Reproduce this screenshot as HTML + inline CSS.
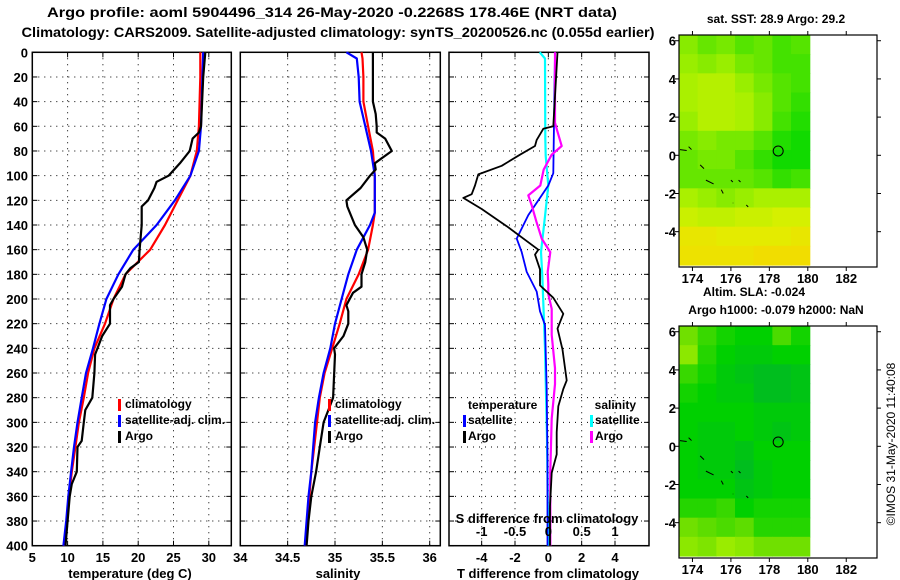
<!DOCTYPE html>
<html><head><meta charset="utf-8"><style>
html,body{margin:0;padding:0;background:#fff;}
svg{display:block;font-family:"Liberation Sans",sans-serif;font-weight:bold;}
</style></head><body>
<svg id="fig" width="900" height="580" viewBox="0 0 900 580" xmlns="http://www.w3.org/2000/svg">
<text x="332" y="17" font-size="14" text-anchor="middle" textLength="570" lengthAdjust="spacingAndGlyphs">Argo profile: aoml 5904496_314 26-May-2020 -0.2268S 178.46E (NRT data)</text>
<text x="338" y="37" font-size="14" text-anchor="middle" textLength="633" lengthAdjust="spacingAndGlyphs">Climatology: CARS2009. Satellite-adjusted climatology: synTS_20200526.nc (0.055d earlier)</text>
<text font-size="12" font-weight="normal" transform="translate(895,444) rotate(-90)" text-anchor="middle">©IMOS 31-May-2020 11:40:08</text>
</svg>
<script>
// ---- data ----
const tDepth=[0,20,60,80,100,120,140,160,180,200,220,240,260,280,300,320,340,360,380,400];
const tClim=[28.8,28.8,28.6,28.3,27.4,25.6,23.8,21.7,18.2,16.5,15.3,13.8,12.9,12.3,11.6,11.1,10.6,10.2,9.9,9.5];
const tSat=[29.2,29.1,28.9,28.6,27.4,25.2,22.6,19.3,17.2,15.5,14.5,13.6,12.6,12.0,11.4,10.9,10.5,10.1,9.8,9.4];
const argoDepth=[0,20,60,65,70,80,90,100,105,110,120,125,140,160,170,175,180,190,200,205,220,230,245,260,280,290,300,315,320,340,350,360,380,400];
const tArgo=[29.5,29.2,28.9,28.6,27.7,27.3,25.9,24.3,22.6,22.3,21.4,20.5,20.5,20.2,20.1,18.9,18.2,17.7,16.5,16.0,16.0,14.9,13.9,13.8,13.5,12.5,12.3,12.0,11.4,11.3,10.6,10.3,10.0,9.7];
const sDepth=[0,5,20,40,60,80,100,120,130,140,160,180,200,220,240,260,280,300,320,340,360,380,400];
const sClim=[35.28,35.29,35.30,35.30,35.35,35.40,35.42,35.42,35.42,35.40,35.35,35.25,35.12,35.05,34.97,34.89,34.84,34.81,34.78,34.75,34.73,34.71,34.69];
const sSat=[35.12,35.23,35.25,35.26,35.32,35.38,35.42,35.42,35.42,35.37,35.23,35.14,35.07,35.00,34.95,34.88,34.83,34.79,34.77,34.75,34.72,34.70,34.68];
const sArgoDepth=[0,40,50,60,65,70,80,85,90,95,100,110,120,125,140,150,160,170,180,190,195,205,210,220,230,240,245,280,290,300,320,340,360,380,400];
const sArgo=[35.40,35.40,35.43,35.44,35.44,35.53,35.60,35.51,35.42,35.43,35.37,35.27,35.12,35.13,35.21,35.30,35.34,35.32,35.28,35.28,35.19,35.12,35.14,35.14,35.09,34.99,35.0,34.98,34.93,34.88,34.84,34.80,34.75,34.72,34.70];
const dtArgoDepth=[0,60,62,71,76,83,92,99,108,115,118,127,141,160,164,176,189,199,212,224,241,266,273,287,308,326,341,368,384,400];
const dtArgo=[0.55,0.3,-0.3,-0.7,-0.8,-1.7,-2.8,-4.2,-4.4,-4.6,-5.1,-4.0,-2.5,-0.6,-0.8,-0.5,-0.5,0.3,0.9,0.55,0.85,1.1,0.9,0.6,0.5,0.5,0.2,0.1,0.1,0.1];
const dtSatDepth=[0,98,108,118,132,151,162,178,194,210,221,273,330,400];
const dtSat=[0.4,0.3,0,-0.5,-1.2,-1.9,-1.6,-1.3,-0.7,-0.5,-0.2,-0.1,-0.05,-0.05];
const dsSatDepth=[0,5,70,84,108,133,162,181,240,313,400];
const dsSat=[-0.13,-0.05,-0.045,-0.04,0,-0.05,-0.11,-0.09,-0.05,-0.02,0];
const dsArgoDepth=[0,57,63,76,83,95,108,116,124,137,151,162,178,188,196,208,229,256,269,297,340,400];
const dsArgo=[0.1,0.1,0.13,0.2,0.05,-0.07,-0.12,-0.3,-0.25,-0.18,-0.1,0.03,-0.01,0,0,0.05,0.05,0.1,0.1,0.05,0.03,0.03];
const depthTicks=[0,20,40,60,80,100,120,140,160,180,200,220,240,260,280,300,320,340,360,380,400];
const tTicks=[5,10,15,20,25,30];
const sTicks=[34,34.5,35,35.5,36];
const dTTicks=[-4,-2,0,2,4];
const dSTicks=[-1,-0.5,0,0.5,1];
const sstGrid=[
[0.4,0.3,0.35,0.25,0.3,0.2,0.25],[0.45,0.4,0.45,0.35,0.3,0.2,0.2],[0.5,0.55,0.55,0.45,0.35,0.25,0.2],
[0.5,0.55,0.55,0.5,0.4,0.25,0.15],[0.45,0.55,0.55,0.5,0.4,0.2,0.1],[0.35,0.4,0.35,0.35,0.25,0.1,0.05],
[0.3,0.35,0.35,0.25,0.15,0.05,0.05],[0.3,0.3,0.3,0.3,0.25,0.15,0.2],[0.5,0.45,0.4,0.45,0.5,0.5,0.5],
[0.65,0.6,0.6,0.65,0.65,0.7,0.7],[0.85,0.85,0.8,0.8,0.8,0.8,0.85],[0.9,0.9,0.9,0.9,0.95,0.95,0.95]];
const slaGrid=[
[0.5,0.35,0.25,0.2,0.2,0.4,0.25],[0.6,0.3,0.2,0.15,0.15,0.2,0.2],[0.35,0.25,0.15,0.1,0.05,0.05,0.1],
[0.25,0.2,0.15,0.15,0.05,0.05,0.1],[0.2,0.2,0.2,0.2,0.15,0.15,0.15],[0.2,0.15,0.15,0.2,0.15,0.1,0.15],
[0.2,0.15,0.15,0.1,0.2,0.2,0.2],[0.2,0.15,0.15,0.05,0.15,0.2,0.2],[0.2,0.2,0.2,0.1,0.15,0.2,0.2],
[0.3,0.3,0.35,0.2,0.25,0.25,0.25],[0.5,0.45,0.4,0.45,0.3,0.3,0.3],[0.6,0.55,0.65,0.6,0.5,0.5,0.5]];
const lonTicks=[174,176,178,180,182];
const latTicks=[-4,-2,0,2,4,6];
const argoLon=178.46, argoLat=0.2268;

// ---- drawing ----
const NS="http://www.w3.org/2000/svg";
const svg=document.getElementById('fig');
function mk(tag,attrs,parent){const e=document.createElementNS(NS,tag);for(const k in attrs)e.setAttribute(k,attrs[k]);(parent||svg).appendChild(e);return e;}
const Y0=52.3,Y1=545.7;
const yD=d=>Y0+d/400*(Y1-Y0);
function panel(x0,x1,xmin,xmax,ticks,name){
  const g=mk('g',{});
  
  
  const sx=v=>x0+(v-xmin)/(xmax-xmin)*(x1-x0);
  depthTicks.forEach(d=>{if(d>0&&d<400){const l=mk('line',{x1:x0,x2:x1,y1:yD(d),y2:yD(d),stroke:'#000','stroke-width':1,'stroke-dasharray':'1,5'},g);
    
    }
    mk('line',{x1:x0,x2:x0+5,y1:yD(d),y2:yD(d),stroke:'#000'},g);mk('line',{x1:x1,x2:x1-5,y1:yD(d),y2:yD(d),stroke:'#000'},g);});
  ticks.forEach(v=>{const x=sx(v);if(x>x0+1&&x<x1-1){const l=mk('line',{x1:x,x2:x,y1:Y0,y2:Y1,stroke:'#000','stroke-dasharray':'1,5'},g);
    
    }
    mk('line',{x1:x,x2:x,y1:Y1,y2:Y1-5,stroke:'#000'},g);mk('line',{x1:x,x2:x,y1:Y0,y2:Y0+5,stroke:'#000'},g);});
  const r=mk('rect',{x:x0,y:Y0,width:x1-x0,height:Y1-Y0,fill:'none',stroke:'#000','stroke-width':1.5},g);
  
  
  return {g,sx};
}
function line(p,xs,ds,sx,col,name,w){
  const pts=xs.map((v,i)=>sx(v).toFixed(1)+','+yD(ds[i]).toFixed(1)).join(' ');
  const e=mk('polyline',{points:pts,fill:'none',stroke:col,'stroke-width':w||2.2,'stroke-linejoin':'round'},p.g);
  
  
}
function txt(s,x,y,opt,name){const e=mk('text',Object.assign({x:x,y:y,'font-size':13},opt||{}));e.textContent=s;
  
  return e;}
function legBar(x,y,col,name){const e=mk('rect',{x:x,y:y-11,width:3,height:12,fill:col});
  
  }

depthTicks.forEach(d=>txt(String(d),28,yD(d)+5,{'text-anchor':'end'},'y-tick-label'));

const p1=panel(32.3,231.3,5,5+199/7.06,tTicks,'temperature-panel');
line(p1,tClim,tDepth,p1.sx,'#f00','temp-climatology-line');
line(p1,tSat,tDepth,p1.sx,'#00f','temp-satellite-line');
line(p1,tArgo,argoDepth,p1.sx,'#000','temp-argo-line');
tTicks.forEach(v=>txt(String(v),p1.sx(v),562,{'text-anchor':'middle'},'x-tick-label'));
txt('temperature (deg C)',130,578,{'text-anchor':'middle'},'x-axis-title-temperature');
legBar(118,410,'#f00','legend-climatology-marker');txt('climatology',125,408,{'font-size':12},'legend-climatology');
legBar(118,426,'#00f','legend-satellite-marker');txt('satellite-adj. clim.',125,424,{'font-size':12},'legend-satellite');
legBar(118,442,'#000','legend-argo-marker');txt('Argo',125,440,{'font-size':12},'legend-argo');

const p2=panel(240.3,440.3,34,34+200/94.7,sTicks,'salinity-panel');
line(p2,sClim,sDepth,p2.sx,'#f00','sal-climatology-line');
line(p2,sSat,sDepth,p2.sx,'#00f','sal-satellite-line');
line(p2,sArgo,sArgoDepth,p2.sx,'#000','sal-argo-line');
sTicks.forEach(v=>txt(String(v),p2.sx(v),562,{'text-anchor':'middle'},'x-tick-label'));
txt('salinity',338,578,{'text-anchor':'middle'},'x-axis-title-salinity');
legBar(328,410,'#f00','legend-climatology-marker');txt('climatology',335,408,{'font-size':12},'legend-climatology');
legBar(328,426,'#00f','legend-satellite-marker');txt('satellite-adj. clim.',335,424,{'font-size':12},'legend-satellite');
legBar(328,442,'#000','legend-argo-marker');txt('Argo',335,440,{'font-size':12},'legend-argo');

const p3=panel(449,649,-5.96,6.04,dTTicks,'difference-panel');
const sxS=v=>p3.sx(v*4);
line(p3,dsSat,dsSatDepth,sxS,'#0ff','sdiff-satellite-line');
line(p3,dtSat,dtSatDepth,p3.sx,'#00f','tdiff-satellite-line',1.8);
line(p3,dsArgo,dsArgoDepth,sxS,'#f0f','sdiff-argo-line');
line(p3,dtArgo,dtArgoDepth,p3.sx,'#000','tdiff-argo-line',1.8);
dTTicks.forEach(v=>txt(String(v),p3.sx(v),562,{'text-anchor':'middle'},'x-tick-label'));
dSTicks.forEach(v=>txt(String(v),sxS(v),536,{'text-anchor':'middle'},'s-tick-label'));
txt('S difference from climatology',547,523,{'text-anchor':'middle'},'s-axis-title');
txt('T difference from climatology',548,578,{'text-anchor':'middle'},'x-axis-title-tdiff');
txt('temperature',468,409,{'font-size':12},'legend-temperature-heading');
legBar(463,426,'#00f','legend-tsat-marker');txt('satellite',468,424,{'font-size':12},'legend-tsat');
legBar(463,442,'#000','legend-targo-marker');txt('Argo',468,440,{'font-size':12},'legend-targo');
txt('salinity',636,409,{'font-size':12,'text-anchor':'end'},'legend-salinity-heading');
legBar(590,426,'#0ff','legend-ssat-marker');txt('satellite',595,424,{'font-size':12},'legend-ssat');
legBar(590,442,'#f0f','legend-sargo-marker');txt('Argo',595,440,{'font-size':12},'legend-sargo');

function lerpCol(stops,v){for(let i=0;i<stops.length-1;i++){const a=stops[i],b=stops[i+1];if(v<=b[0]){const t=(v-a[0])/(b[0]-a[0]);return 'rgb('+[1,2,3].map(k=>Math.round(a[k]+(b[k]-a[k])*t)).join(',')+')';}}const l=stops[stops.length-1];return 'rgb('+l[1]+','+l[2]+','+l[3]+')';}
const sstStops=[[0,0,216,0],[0.5,170,240,0],[0.75,224,240,0],[1,245,216,0]];
const slaStops=[[0,0,184,40],[0.2,0,208,0],[0.5,112,224,0],[0.7,168,240,0],[1,200,245,0]];
function map(top,grid,stops,name){
  const L=679,R=877,B=top+232;
  const lon0=173.3,lon1=183.6,lat0=-5.85,lat1=6.3;
  const mx=v=>L+(v-lon0)/(lon1-lon0)*(R-L);
  const my=v=>B-(v-lat0)/(lat1-lat0)*(B-top);
  const g=mk('g',{});
  
  
  const cx0=L,cx1=mx(180.1),ny=grid.length,nx=grid[0].length;
  const ctop=top,cbot=B-2;
  grid.forEach((row,i)=>row.forEach((v,j)=>{
    const c=mk('rect',{x:(cx0+j*(cx1-cx0)/nx).toFixed(2),y:(ctop+i*(cbot-ctop)/ny).toFixed(2),width:((cx1-cx0)/nx+0.6).toFixed(2),height:((cbot-ctop)/ny+0.6).toFixed(2),fill:lerpCol(stops,v)},g);
    
    
  }));
  const coast=[[173.35,0.3,173.7,0.25],[173.8,0.45,173.95,0.3],[174.4,-0.5,174.6,-0.7],[174.7,-1.3,175.1,-1.5],[175.5,-1.8,175.6,-2.0],[176,-1.3,176.1,-1.4],[176.4,-1.3,176.5,-1.4],[176.8,-2.6,176.9,-2.7],[176.1,-2.5,176.12,-2.5]];
  coast.forEach(c=>{const e=mk('line',{x1:mx(c[0]),y1:my(c[1]),x2:mx(c[2]),y2:my(c[3]),stroke:'#000','stroke-width':1},g);
    
    });
  const fr=mk('rect',{x:L,y:top,width:R-L,height:B-top,fill:'none',stroke:'#000','stroke-width':1.2},g);
  
  
  lonTicks.forEach(v=>{mk('line',{x1:mx(v),x2:mx(v),y1:top,y2:top-4,stroke:'#000'},g);mk('line',{x1:mx(v),x2:mx(v),y1:B,y2:B+4,stroke:'#000'},g);
    txt(String(v),mx(v),B+16,{'text-anchor':'middle'},'map-lon-label');});
  latTicks.forEach(v=>{mk('line',{x1:L,x2:L-4,y1:my(v),y2:my(v),stroke:'#000'},g);mk('line',{x1:R,x2:R+4,y1:my(v),y2:my(v),stroke:'#000'},g);
    txt(String(v),676,my(v)+5,{'text-anchor':'end'},'map-lat-label');});
  const c=mk('circle',{cx:mx(argoLon),cy:my(argoLat),r:5,fill:'none',stroke:'#000','stroke-width':1},g);
  
  
}
map(35,sstGrid,sstStops,'sst-map');
map(326,slaGrid,slaStops,'sla-map');
txt('sat. SST: 28.9 Argo: 29.2',776,23,{'text-anchor':'middle','font-size':12},'sst-map-title');
txt('Altim. SLA: -0.024',754,296,{'text-anchor':'middle','font-size':12},'sla-map-title');
txt('Argo h1000: -0.079 h2000: NaN',776,314,{'text-anchor':'middle','font-size':12},'sla-map-subtitle');
</script>
</body></html>
